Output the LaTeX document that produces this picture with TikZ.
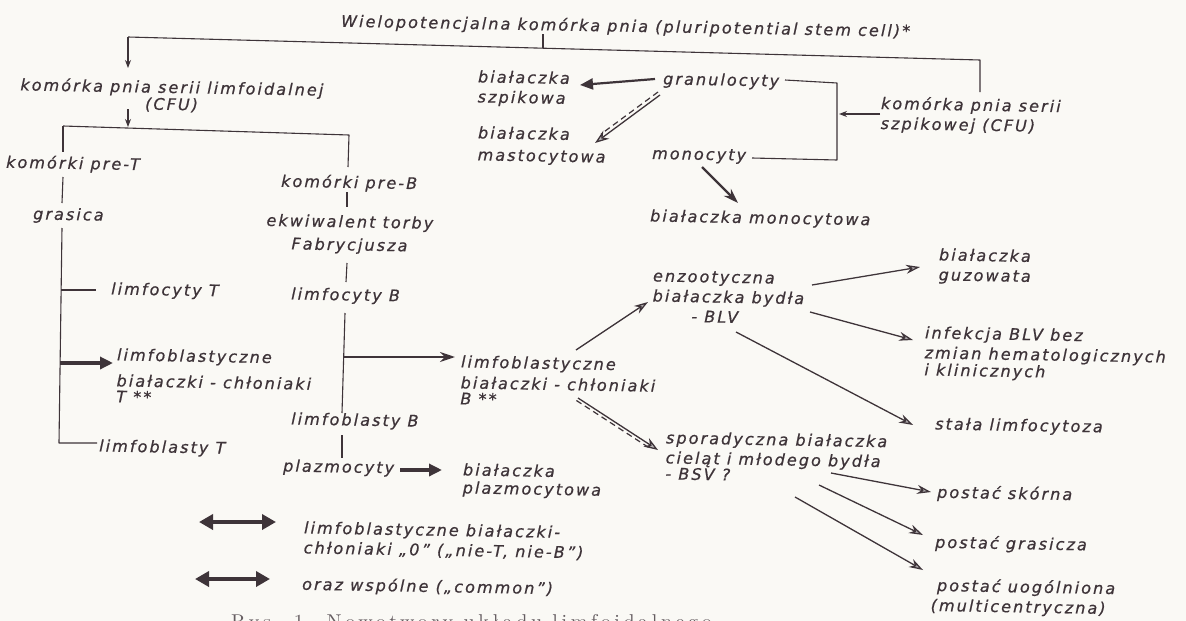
\documentclass[tikz,border=0pt]{standalone}
\usepackage{fontspec}
\newfontfamily\hand{DejaVu Sans}[LetterSpace=13, FakeBold=0.7]
\newfontfamily\capf{lmroman10-regular}[Extension=.otf, LetterSpace=18]
\usetikzlibrary{arrows.meta}
\definecolor{ink}{RGB}{62,52,57}
\definecolor{paper}{RGB}{250,249,245}
\begin{document}
\begin{tikzpicture}[x=1pt,y=-1pt,
  lbl/.style={font=\hand\itshape\fontsize{16}{20}\selectfont, text=ink, inner sep=0pt, align=left, rotate=-1},
  tree/.style={draw=ink, line width=1.1pt, line join=round},
  thinarr/.style={tree, -{Stealth[length=8pt,width=6pt]}},
  solarr/.style={draw=ink, line width=3.4pt, -{Triangle[length=13pt,width=12pt]}},
  midsol/.style={draw=ink, line width=2.2pt, -{Triangle[length=13pt,width=11pt]}},
  medarr/.style={draw=ink, line width=2.2pt, -{Stealth[length=15pt,width=10pt,fill=ink!45]}},
  lightarr/.style={draw=ink, line width=1.3pt, -{Stealth[length=14pt,width=9pt,fill=ink!40]}},
  dblmain/.style={draw=ink, line width=1.3pt, -{Stealth[length=14pt,width=10pt,fill=ink!35]}},
  dbldash/.style={draw=ink, line width=1.2pt, dash pattern=on 6pt off 4pt, shorten >=10pt},
  legarr/.style={draw=ink, line width=3.8pt, {Triangle[length=14pt,width=15pt]}-{Triangle[length=14pt,width=15pt]}}
]
\fill[paper] (0,0) rectangle (1186,621);
\useasboundingbox (0,0) rectangle (1186,621);

% ---------- text nodes ----------
\node[lbl, anchor=west] (title) at (341,22) {Wielopotencjalna komórka pnia (pluripotential stem cell)*};
\node[lbl, anchor=north, align=center] (lymph) at (172,80) {komórka pnia serii limfoidalnej\\[-3pt](CFU)};
\node[lbl, anchor=west] (preT) at (6,163) {komórki pre-T};
\node[lbl, anchor=west] (grasica) at (33,215) {grasica};
\node[lbl, anchor=west] (limfT) at (111,290) {limfocyty T};
\node[lbl, anchor=north west] (limfoT) at (117,348) {limfoblastyczne\\[6pt]białaczki - chłoniaki\\[-4pt]T **};
\node[lbl, anchor=west] (limfoblT) at (99,447) {limfoblasty T};
\node[lbl, anchor=west] (preB) at (281,182) {komórki pre-B};
\node[lbl, anchor=north, align=center] (ekw) at (350,215) {ekwiwalent torby\\[3pt]Fabrycjusza};
\node[lbl, anchor=west] (limfB) at (291,295) {limfocyty B};
\node[lbl, anchor=west] (limfoblB) at (291,420) {limfoblasty B};
\node[lbl, anchor=west] (plazm) at (283,467) {plazmocyty};
\node[lbl, anchor=north west] (limfoB) at (461,355) {limfoblastyczne\\[1pt]białaczki - chłoniaki\\[-4pt]B **};
\node[lbl, anchor=north west] (plazmB) at (463,463) {białaczka\\[-2pt]plazmocytowa};
\node[lbl, anchor=north west] (szpik) at (478,70) {białaczka\\szpikowa};
\node[lbl, anchor=north west] (mast) at (478,126) {białaczka\\[2pt]mastocytowa};
\node[lbl, anchor=west] (gran) at (663,80) {granulocyty};
\node[lbl, anchor=west] (mono) at (652,155) {monocyty};
\node[lbl, anchor=west] (monoc) at (650,217) {białaczka monocytowa};
\node[lbl, anchor=north west] (szpCFU) at (881,96) {komórka pnia serii\\szpikowej (CFU)};
\node[lbl, anchor=north west] (enzoo) at (653,270) {enzootyczna\\białaczka bydła\\\hspace*{39pt}- BLV};
\node[lbl, anchor=north west] (guz) at (939,248) {białaczka\\guzowata};
\node[lbl, anchor=north west] (infek) at (925,326) {infekcja BLV bez\\zmian hematologicznych\\[-3pt]i klinicznych};
\node[lbl, anchor=west] (stala) at (935,425) {stała limfocytoza};
\node[lbl, anchor=north west] (spor) at (666,431) {sporadyczna białaczka\\cieląt i młodego bydła\\[-4pt]- BSV ?};
\node[lbl, anchor=west] (skorna) at (937,493) {postać skórna};
\node[lbl, anchor=west] (grasicza) at (935,543) {postać grasicza};
\node[lbl, anchor=north west] (uog) at (937,578) {postać uogólniona\\\hspace*{-6pt}(multicentryczna)};
\node[lbl, anchor=north west] (leg1) at (304,521) {limfoblastyczne białaczki-\\chłoniaki „0” („nie-T, nie-B”)};
\node[lbl, anchor=west] (leg2) at (302,585) {oraz wspólne („common”)};
\node[font=\capf\fontsize{20}{24}\selectfont, text=ink!80, anchor=base west, inner sep=0pt] (caption) at (231,628) {Rys. 1. Nowotwory układu limfoidalnego};

% ---------- tree coordinates ----------
\coordinate (tl) at (128,37);
\coordinate (tm) at (543,48);
\coordinate (tr) at (980,60);
\coordinate (L0) at (63,126);
\coordinate (L1) at (63,152);
\coordinate (L2) at (63,177);
\coordinate (L3) at (62,203);
\coordinate (L4) at (62,228);
\coordinate (L5) at (61,290);
\coordinate (L6) at (60,363);
\coordinate (L7) at (59,443);
\coordinate (R0) at (349,135);
\coordinate (R1) at (348,167);
\coordinate (R2) at (347,192);
\coordinate (R3) at (347,207);
\coordinate (R4) at (347,263);
\coordinate (R5) at (346,282);
\coordinate (R6) at (345,313);
\coordinate (R7) at (344,357);
\coordinate (R8) at (342,413);
\coordinate (R9) at (342,435);
\coordinate (R10) at (342,458);
\coordinate (G1) at (837,83);
\coordinate (G2) at (837,160);

% ---------- top bracket ----------
\draw[tree] ([shift={(202,12)}]title.west) -- (tm);
\draw[tree] (tl) -- (tr) -- ([shift={(99,-4)}]szpCFU.north west);
\draw[thinarr] (tl) -- ([shift={(-44,-12)}]lymph.north);
\draw[thinarr] ([shift={(-44,29)}]lymph.north) -- (128,127);

% ---------- lymphoid tree ----------
\draw[tree] (L0) -- (R0) -- (R1);
\draw[tree] (L0) -- (L1);
\draw[tree] (L2) -- (L3);
\draw[tree] (L4) -- (L7) -- ([shift={(-2,-4)}]limfoblT.west);
\draw[tree] (L5) -- ([shift={(-15,0)}]limfT.west);
\draw[solarr] (L6) -- ([shift={(-4,15)}]limfoT.north west);
\draw[tree] (R2) -- (R3);
\draw[tree] (R4) -- (R5);
\draw[tree] (R6) -- (R8);
\draw[tree] (R9) -- (R10);
\draw[medarr] (R7) -- ([shift={(-6,2)}]limfoB.north west);
\draw[solarr] ([shift={(117,3)}]plazm.west) -- ([shift={(-21,7)}]plazmB.north west);

% ---------- myeloid part ----------
\draw[tree] ([shift={(122,0)}]gran.west) -- (G1) -- (G2) -- ([shift={(100,3)}]mono.west);
\draw[thinarr] ([shift={(-1,18)}]szpCFU.north west) -- ([shift={(-42,18)}]szpCFU.north west);
\draw[midsol] ([shift={(-8,-1)}]gran.west) -- ([shift={(102,15)}]szpik.north west);
\draw[dblmain] ([shift={(-3,15)}]gran.west) -- ([shift={(117,17)}]mast.north west);
\draw[dbldash, transform canvas={shift={(-2,-3)}}] ([shift={(-3,15)}]gran.west) -- ([shift={(117,17)}]mast.north west);
\draw[medarr] ([shift={(50,12)}]mono.west) -- ([shift={(88,-14)}]monoc.west);

% ---------- bovine leukosis ----------
\draw[lightarr] ([shift={(115,-5)}]limfoB.north west) -- ([shift={(-5,32)}]enzoo.north west);
\draw[lightarr] ([shift={(159,15)}]enzoo.north west) -- ([shift={(-19,19)}]guz.north west);
\draw[lightarr] ([shift={(157,42)}]enzoo.north west) -- ([shift={(-12,14)}]infek.north west);
\draw[lightarr] ([shift={(83,62)}]enzoo.north west) -- ([shift={(-22,0)}]stala.west);
\draw[dblmain] ([shift={(117,43)}]limfoB.north west) -- ([shift={(-8,19)}]spor.north west);
\draw[dbldash, transform canvas={shift={(-1.6,2.5)}}] ([shift={(117,43)}]limfoB.north west) -- ([shift={(-8,19)}]spor.north west);
\draw[lightarr] ([shift={(165,42)}]spor.north west) -- ([shift={(-6,-1)}]skorna.west);
\draw[lightarr] ([shift={(153,54)}]spor.north west) -- ([shift={(-12,-8)}]grasicza.west);
\draw[lightarr] ([shift={(129,66)}]spor.north west) -- ([shift={(-14,-8)}]uog.north west);

% ---------- legend ----------
\coordinate (la1) at (199,522);
\coordinate (lb1) at (276,522);
\coordinate (la2) at (195,579);
\coordinate (lb2) at (270,579);
\draw[legarr] (la1) -- (lb1);
\draw[legarr] (la2) -- (lb2);
\end{tikzpicture}
\end{document}
